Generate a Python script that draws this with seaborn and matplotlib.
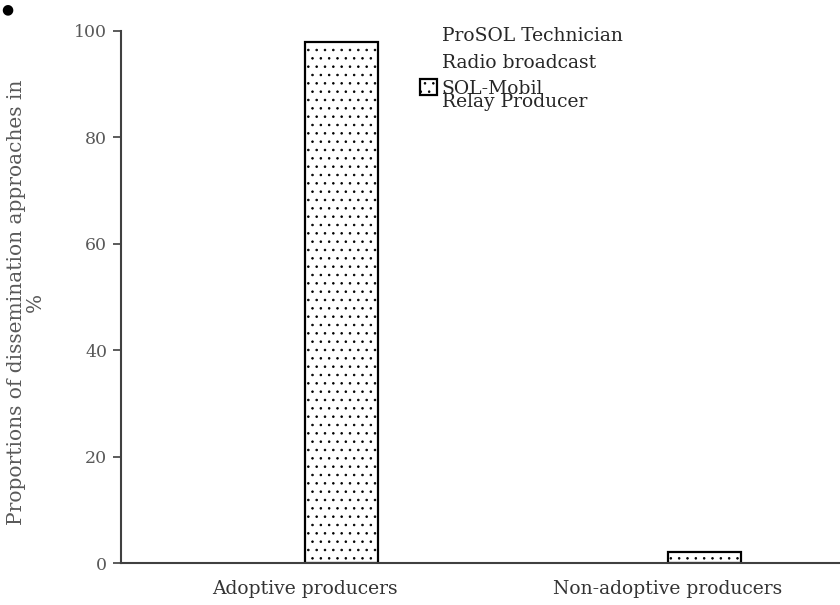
import matplotlib
matplotlib.use("Agg")
import matplotlib.pyplot as plt
import seaborn as sns
import pandas as pd

# values (only SOL-Mobil is visible)
groups = ["Adoptive producers", "Non-adoptive producers"]
approaches = ["ProSOL Technician", "Radio broadcast", "SOL-Mobil", "Relay Producer"]
prosol = [0, 0]
radio = [0, 0]
solmobil = [98, 2]
relay = [0, 0]

df = pd.DataFrame({
    "group": groups * 4,
    "approach": [a for a in approaches for _ in groups],
    "value": prosol + radio + solmobil + relay,
})

sns.set_style("white")
plt.rcParams["font.family"] = ["DejaVu Serif"]
plt.rcParams["hatch.linewidth"] = 0.6
plt.rcParams["hatch.color"] = "#333333"

fig = plt.figure(figsize=(8.4, 6.05), dpi=100)
ax = fig.add_axes([0.144, 0.0694, 0.856, 0.8794])

sns.barplot(data=df, x="group", y="value", hue="approach", hue_order=approaches,
            order=groups, palette=["white"] * 4, width=0.8, ax=ax)

for name, cont in zip(approaches, ax.containers):
    for p in cont:
        if name == "SOL-Mobil":
            p.set_facecolor("white")
            p.set_edgecolor("black")
            p.set_linewidth(1.6)
            p.set_hatch("..")
        else:
            p.set_facecolor("none")
            p.set_edgecolor("none")

ax.get_legend().remove()
handles = [c.patches[0] for c in ax.containers]
leg_kw = dict(loc="upper left", frameon=False, fontsize=13.5, handlelength=0.9,
              handleheight=0.9, handletextpad=0.25, labelspacing=0.42,
              borderpad=0, borderaxespad=0)
# the last entry sits over the SOL-Mobil line in the original
leg1 = fig.legend(handles[:3], approaches[:3], bbox_to_anchor=(0.5, 0.955), **leg_kw)
leg2 = fig.legend(handles[3:], approaches[3:], bbox_to_anchor=(0.5, 0.847), **leg_kw)
for lg in (leg1, leg2):
    for t in lg.get_texts():
        t.set_color("#262626")

ax.set_ylim(0, 100)
ax.set_xlim(-0.507, 1.474)
ax.set_yticks([0, 20, 40, 60, 80, 100])
ax.set_xlabel("")
ax.set_ylabel("Proportions of dissemination approaches in\n%", fontsize=14.5,
              color="#595959", linespacing=0.95)
ax.yaxis.set_label_coords(-0.106, 0.49)
ax.tick_params(axis="y", direction="out", length=6, width=1.2, color="#404040",
               labelsize=12.5, labelcolor="#595959", pad=4, left=True)
ax.tick_params(axis="x", length=0, labelsize=13.5, labelcolor="#333333", pad=12)

sns.despine(ax=ax)
for s in ["left", "bottom"]:
    ax.spines[s].set_color("#404040")
    ax.spines[s].set_linewidth(1.5)

fig.text(0.002, 0.978, "\u25cf", fontsize=10, color="black", family="DejaVu Sans")

fig.savefig("out.png", dpi=100)
